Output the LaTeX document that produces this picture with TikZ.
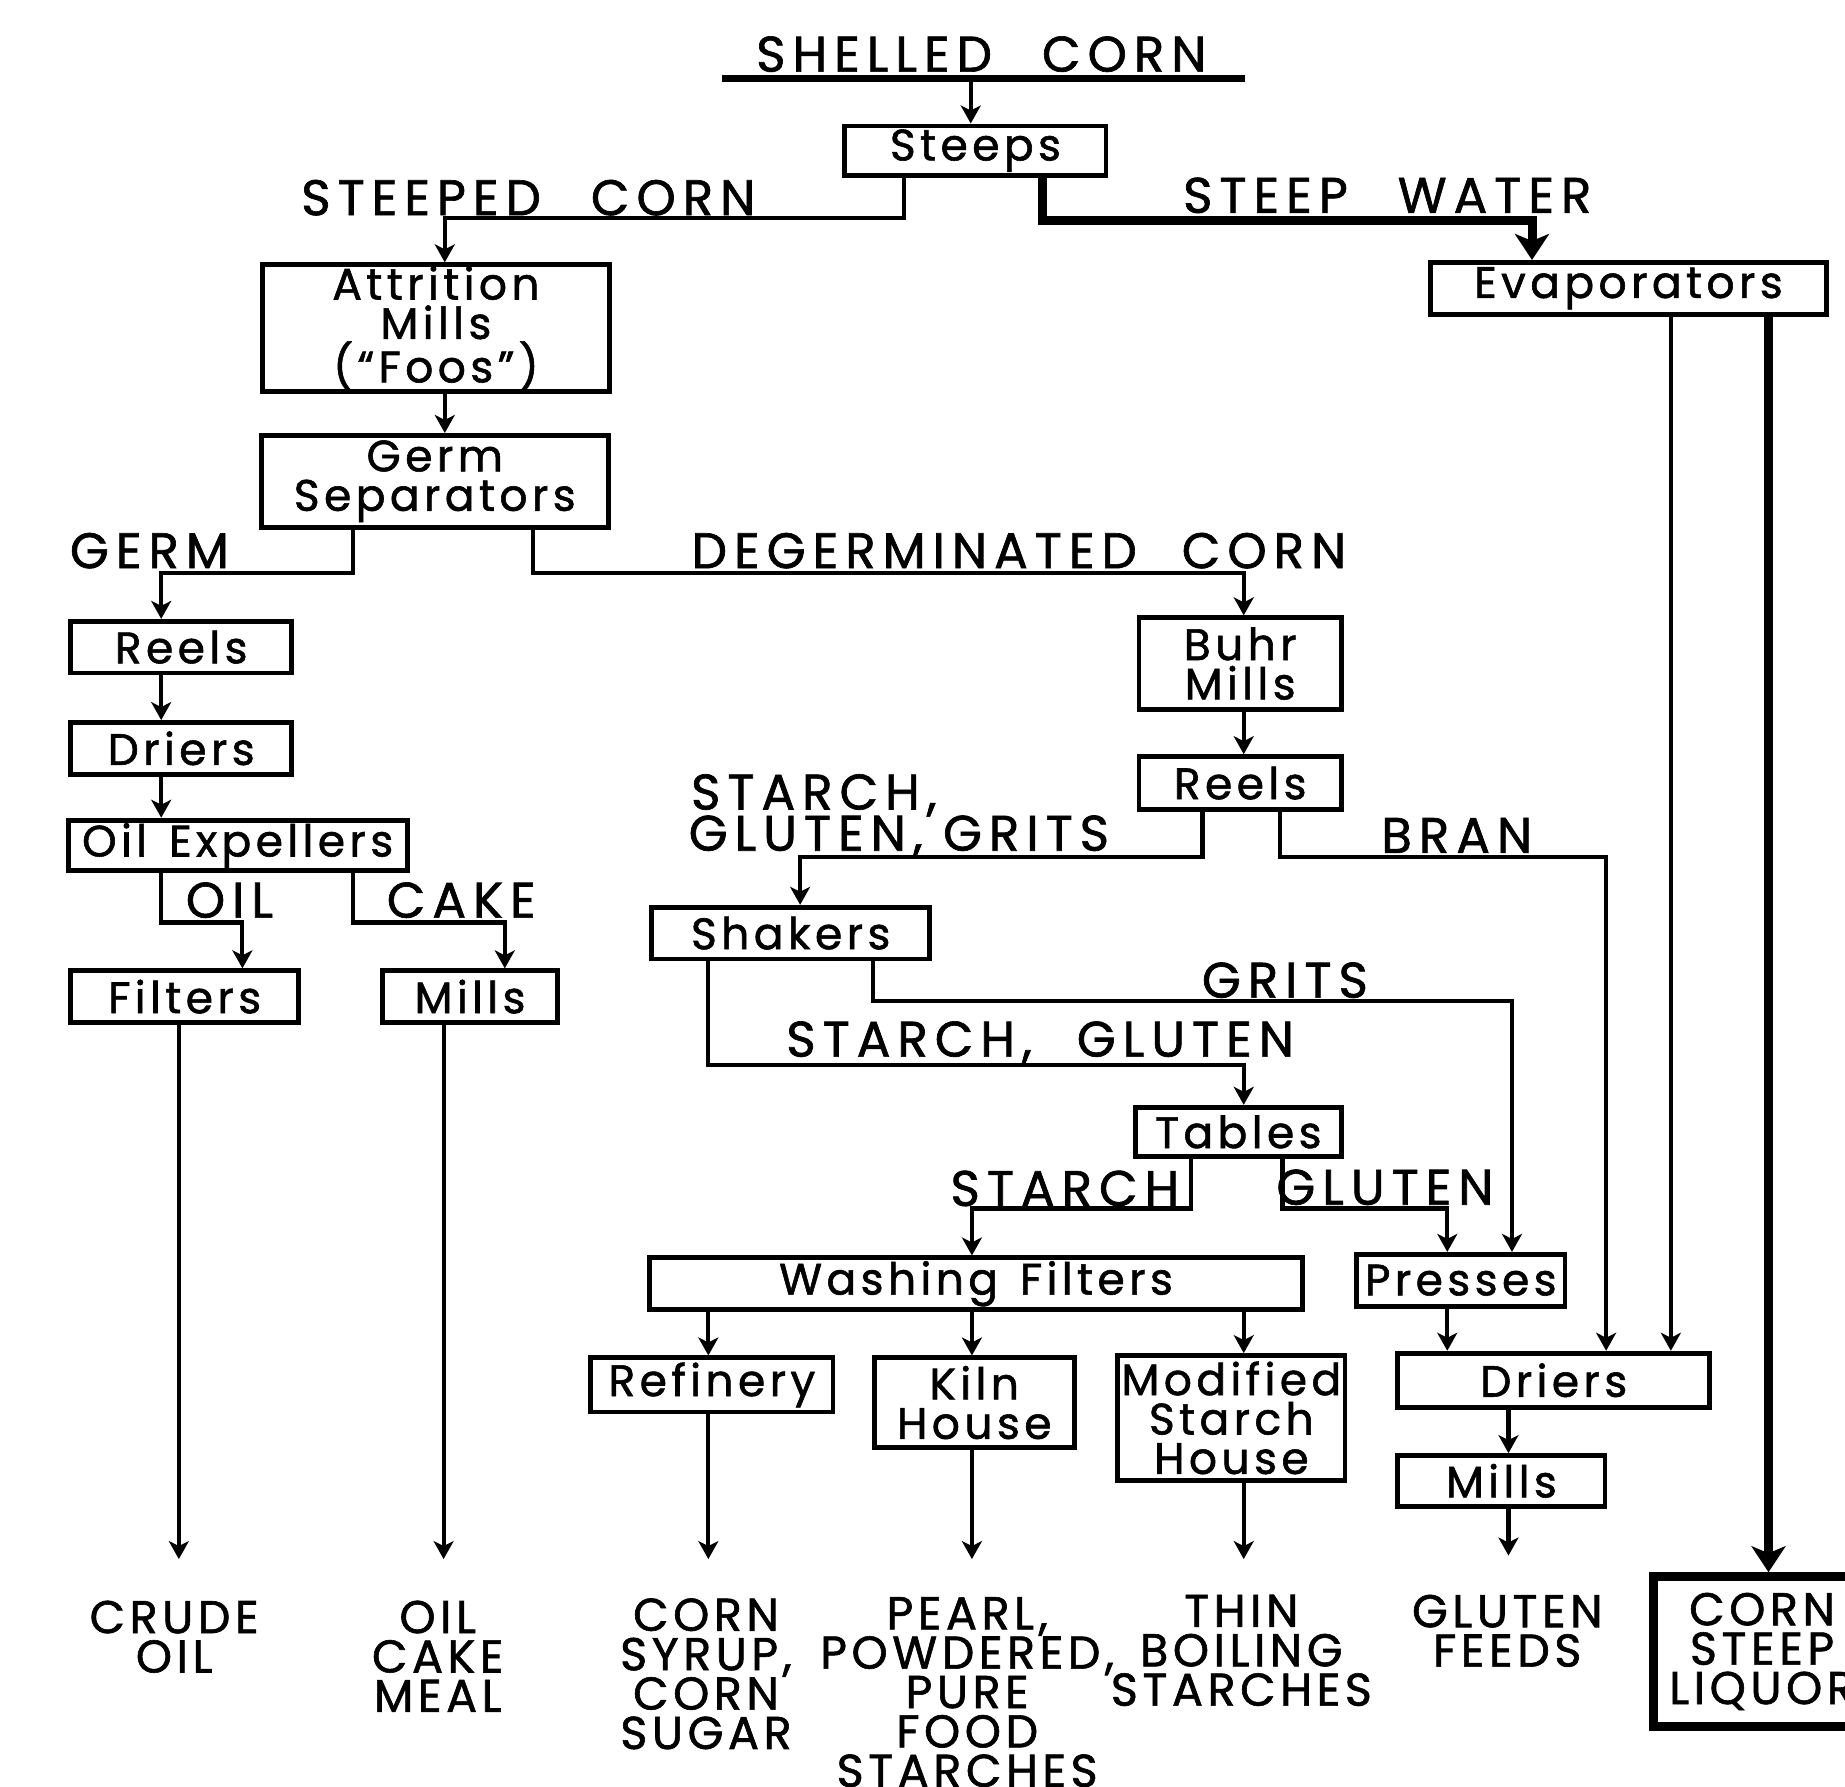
\documentclass[tikz,border=0pt]{standalone}
\usepackage{fontspec}
\setmainfont{Poppins}
\newfontfamily\boxf{Poppins}[LetterSpace=10, FakeBold=1.3]
\newfontfamily\lab{Poppins}[LetterSpace=14, FakeBold=1.3]
\newfontfamily\outf{Poppins}[LetterSpace=10, FakeBold=1.3]
\usetikzlibrary{arrows.meta}
\begin{document}
\begin{tikzpicture}[x=0.5884pt,y=-0.5884pt,
  corners/.style n args={4}{minimum width={(#3-#1)*0.5884pt}, minimum height={(#4-#2)*0.5884pt}, at={({(#1+#3)/2},{(#2+#4)/2})}},
  box/.style={draw, line width=2.4pt, inner sep=0pt, font=\boxf\fontsize{22}{19.7}\selectfont, align=center},
  lbl/.style={font=\lab\fontsize{25}{20}\selectfont, inner sep=0pt},
  outtxt/.style={font=\outf\fontsize{23}{19.7}\selectfont, align=center, inner sep=0pt, anchor=north},
  arr/.style={line width=2.1pt, -{Stealth[length=9pt,width=10pt,inset=2.5pt]}},
  thk/.style={line width=4.5pt, -{Stealth[length=13pt,width=17pt,inset=3.5pt]}},
  ulin/.style={line width=3.5pt},
]
\useasboundingbox (0,0) rectangle (1568,1518);
\clip (0,0) rectangle (1568,1518);

% ---------- boxes ----------
\node[box, corners={718}{107}{940}{149}] (steeps) {Steeps};
\node[box, corners={1216}{223}{1552}{267}] (evap) {Evaporators};
\node[box, corners={223}{225}{518}{333}] (attr) {Attrition\\Mills\\(“Foos”)};
\node[box, corners={222}{370}{517}{448}] (gs) {Germ\\Separators};
\node[box, corners={60}{528}{248}{572}] (reelsL) {Reels};
\node[box, corners={60}{614}{248}{658}] (driersL) {Driers};
\node[box, corners={58}{697}{346}{740}] (oe) {Oil\hspace{0.5em}Expellers};
\node[box, corners={60}{825}{254}{869}] (filters) {Filters};
\node[box, corners={325}{825}{474}{869}] (millsL) {Mills};
\node[box, corners={968}{525}{1140}{603}] (buhr) {Buhr\\Mills};
\node[box, corners={968}{643}{1140}{688}] (reelsR) {Reels};
\node[box, corners={554}{771}{790}{815}] (shakers) {Shakers};
\node[box, corners={965}{941}{1140}{983}] (tables) {Tables};
\node[box, corners={552}{1069}{1107}{1113}] (wf) {Washing\hspace{0.5em}Filters};
\node[box, corners={1153}{1066}{1330}{1110}] (presses) {Presses};
\node[box, corners={502}{1154}{708}{1200}] (refinery) {Refinery};
\node[box, corners={743}{1154}{913}{1230}] (kiln) {Kiln\\House};
\node[box, corners={950}{1152}{1143}{1258}] (mod) {Modified\\Starch\\House};
\node[box, corners={1188}{1150}{1453}{1196}] (driersR) {Driers};
\node[box, corners={1188}{1237}{1364}{1280}] (millsR) {Mills};
\node[box, line width=4.5pt, corners={1405}{1340}{1590}{1467}, font=\outf\fontsize{23}{19.7}\selectfont] (liquor) {CORN\\STEEP\\LIQUOR};

% ---------- labels ----------
\node[lbl] (shelled) at (834,46) {SHELLED\hspace{1em}CORN};
\node[lbl] (lsteeped) at (449,168) {STEEPED\hspace{1em}CORN};
\node[lbl] (lwater) at (1179,166) {STEEP\hspace{1em}WATER};
\node[lbl] (lgerm) at (127,468) {GERM};
\node[lbl] (ldegerm) at (866,468) {DEGERMINATED\hspace{0.9em}CORN};
\node[lbl, anchor=west] (lstarch1) at (587,676) {STARCH,};
\node[lbl, anchor=west] (lstarch2) at (585,711) {GLUTEN, GRITS};
\node[lbl] (lbran) at (1238,710) {BRAN};
\node[lbl] (loil) at (195,765) {OIL};
\node[lbl] (lcake) at (392,765) {CAKE};
\node[lbl] (lgrits) at (1092,833) {GRITS};
\node[lbl] (lsg) at (884,886) {STARCH,\hspace{0.9em}GLUTEN};
\node[lbl] (lstarch) at (905,1010) {STARCH};
\node[lbl] (lgluten) at (1177,1009) {GLUTEN};

% ---------- outputs ----------
\node[outtxt] (crude) at (148,1360) {CRUDE\\OIL};
\node[outtxt] (oilcake) at (372,1360) {OIL\\CAKE\\MEAL};
\node[outtxt] (syrup) at (600,1358) {CORN\\SYRUP,\\CORN\\SUGAR};
\node[outtxt] (pearl) at (822,1357) {PEARL,\\POWDERED,\\PURE\\FOOD\\STARCHES};
\node[outtxt] (thin) at (1055,1355) {THIN\\BOILING\\STARCHES};
\node[outtxt] (feeds) at (1281,1355) {GLUTEN\\FEEDS};

% ---------- free ends ----------
\coordinate (cin) at (825,67);
\coordinate (ul1) at (614,67);
\coordinate (ul2) at (1058,67);
\coordinate (e1) at (152,1325);
\coordinate (e2) at (377,1325);
\coordinate (e3) at (602,1325);
\coordinate (e4) at (826,1325);
\coordinate (e5) at (1057,1325);
\coordinate (e6) at (1282,1322);

% ---------- connectors ----------
\draw[ulin] (ul1) -- (ul2);
\draw[arr] (cin) -- (steeps.north -| cin);
\draw[arr] (steeps.south -| 768,0) |- (378,185) -- (attr.north -| 378,0);
\draw[thk] (steeps.south -| 886,0) |- (1302,187) -- (evap.north -| 1302,0);
\draw[arr] (evap.south -| 1420,0) -- (driersR.north -| 1420,0);
\draw[thk] (evap.south -| 1503,0) -- (liquor.north -| 1503,0);
\draw[arr] (attr.south -| 378,0) -- (gs.north -| 378,0);
\draw[arr] (gs.south -| 300,0) |- (137,487) -- (reelsL.north -| 137,0);
\draw[arr] (gs.south -| 453,0) |- (1057,487) -- (buhr.north -| 1057,0);
\draw[arr] (reelsL.south -| 137,0) -- (driersL.north -| 137,0);
\draw[arr] (driersL.south -| 137,0) -- (oe.north -| 137,0);
\draw[arr] (oe.south -| 137,0) |- (206,784) -- (filters.north -| 206,0);
\draw[arr] (oe.south -| 300,0) |- (429,784) -- (millsL.north -| 429,0);
\draw[arr] (filters.south -| e1) -- (e1);
\draw[arr] (millsL.south -| e2) -- (e2);
\draw[arr] (buhr.south -| 1057,0) -- (reelsR.north -| 1057,0);
\draw[arr] (reelsR.south -| 1022,0) |- (680,728) -- (shakers.north -| 680,0);
\draw[arr] (reelsR.south -| 1088,0) |- (1365,728) -- (driersR.north -| 1365,0);
\draw[arr] (shakers.south -| 602,0) |- (1057,905) -- (tables.north -| 1057,0);
\draw[arr] (shakers.south -| 742,0) |- (1285,851) -- (presses.north -| 1285,0);
\draw[arr] (tables.south -| 1012,0) |- (826,1027) -- (wf.north -| 826,0);
\draw[arr] (tables.south -| 1090,0) |- (1230,1027) -- (presses.north -| 1230,0);
\draw[arr] (wf.south -| 602,0) -- (refinery.north -| 602,0);
\draw[arr] (wf.south -| 826,0) -- (kiln.north -| 826,0);
\draw[arr] (wf.south -| 1057,0) -- (mod.north -| 1057,0);
\draw[arr] (presses.south -| 1230,0) -- (driersR.north -| 1230,0);
\draw[arr] (driersR.south -| 1282,0) -- (millsR.north -| 1282,0);
\draw[arr] (millsR.south -| e6) -- (e6);
\draw[arr] (refinery.south -| e3) -- (e3);
\draw[arr] (kiln.south -| e4) -- (e4);
\draw[arr] (mod.south -| e5) -- (e5);
\end{tikzpicture}
\end{document}
